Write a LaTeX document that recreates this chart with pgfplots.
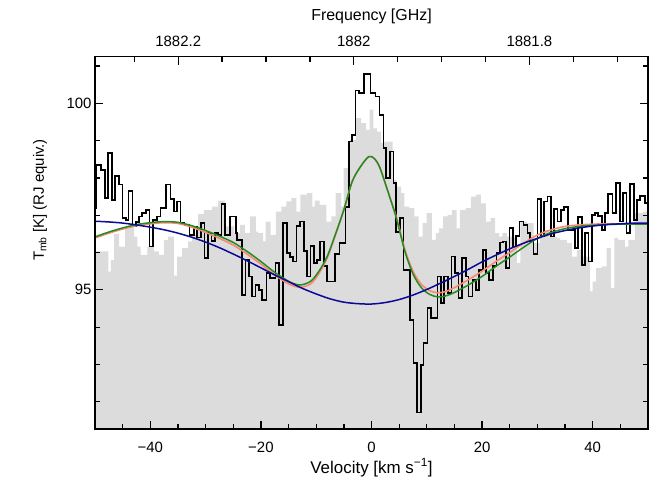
\documentclass[border=0pt]{standalone}
\usepackage{fontspec}
\setmainfont{Liberation Sans}
\usepackage{pgfplots}
\pgfplotsset{compat=1.18}
\definecolor{histgray}{RGB}{220,220,220}
\definecolor{fitblue}{RGB}{10,10,150}
\definecolor{fitgreen}{RGB}{34,139,34}
\definecolor{fitsalmon}{RGB}{250,135,115}
\newcommand{\tfont}{\fontsize{15}{18}\selectfont}
\newcommand{\lfont}{\fontsize{16}{19}\selectfont}
\newcommand{\vfont}{\fontsize{17}{20}\selectfont}
\pgfplotsset{
  myax/.style={scale only axis, width=553bp, height=372.3bp,
    xmin=-50, xmax=50, ymin=91.27, ymax=101.25,
    at={(0,0)}, anchor=south west,
    tick align=inside, major tick length=8bp, minor tick length=5bp,
    axis line style={line width=1.5bp}, tick style={line width=1.3bp, black}}
}
\begin{document}
\begin{tikzpicture}
\path[use as bounding box] (-95bp,-53bp) rectangle (556bp,429bp);
\begin{axis}[myax, axis on top,
  xtick={-40,-20,0,20,40}, xticklabels={−40,−20,0,20,40},
  minor xtick={-45,-35,-30,-25,-15,-10,-5,5,10,15,25,30,35,45},
  xtick pos=left,
  ytick={95,100}, yticklabels={95,100},
  minor ytick={92,93,94,96,97,98,99,101},
  ytick pos=both, yticklabel pos=left,
  xticklabel style={anchor=center, yshift=-18bp, font=\tfont},
  yticklabel style={font=\tfont},
  xlabel={Velocity [km s\textsuperscript{−1}]},
  every axis x label/.style={at={(axis description cs:0.5,-0.1182)}, anchor=base, font=\vfont},
  ylabel={T\textsubscript{mb} [K] (RJ equiv.)},
  every axis y label/.style={at={(axis description cs:-0.0995,0.615)}, rotate=90, anchor=center, font=\tfont},
]
% gray histogram
\addplot[const plot, fill=histgray, draw=none] coordinates {
(-50,96.03) (-47.57,95.49) (-47.15,95.80) (-46.55,96.50) (-45.65,96.16) (-44.56,96.65)
(-43.84,96.70) (-42.94,96.43) (-42.34,96.16) (-41.74,95.94) (-40.54,96.16) (-39.34,96.03)
(-38.44,95.94) (-37.54,96.34) (-36.76,96.43) (-35.74,95.38) (-35.14,95.89) (-34.23,96.12)
(-33.15,96.30) (-32.43,96.47) (-31.35,97.03) (-30.33,97.14) (-28.83,97.23) (-27.75,97.39)
(-26.55,96.70) (-24.86,96.52) (-23.78,96.74) (-22.88,96.52) (-21.98,96.97) (-20.90,96.56)
(-20.48,96.52) (-19.58,96.30) (-19.16,96.83) (-18.26,96.47) (-17.30,97.10) (-16.28,97.23)
(-15.38,97.37) (-14.47,97.46) (-13.57,97.10) (-12.85,97.55) (-11.65,97.59) (-10.69,97.23)
(-10.27,97.39) (-9.37,97.28) (-8.17,96.83) (-7.27,96.97) (-6.49,97.59) (-5.47,97.23)
(-5.05,98.26) (-4.26,98.89) (-3.84,99.02) (-2.76,99.60) (-1.86,99.47) (-0.96,99.29)
(-0.36,99.83) (0.36,99.33) (0.96,99.24) (1.74,98.93) (2.34,98.97) (2.94,98.97)
(3.84,97.95) (4.56,97.77) (5.35,97.59) (5.95,97.23) (6.85,97.19) (7.75,96.97)
(8.53,96.43) (9.25,96.79) (9.97,97.06) (10.93,96.34) (11.65,96.52) (12.25,96.65)
(12.97,96.97) (13.75,97.01) (14.53,97.14) (15.38,96.65) (15.98,97.14) (17.06,97.19)
(17.96,97.50) (18.86,97.55) (19.76,97.32) (20.66,96.83) (21.56,96.92) (22.34,96.52)
(23.06,96.43) (23.66,96.52) (24.50,96.43) (26.31,95.72) (26.91,96.83) (28.11,96.79)
(29.31,96.25) (30.51,96.39) (31.11,96.61) (32.01,96.43) (33.51,96.39) (34.11,96.34)
(35.32,96.25) (36.22,95.89) (37.12,96.07) (38.02,95.89) (39.52,94.96) (40.00,95.22)
(40.60,95.58) (41.62,95.63) (42.52,96.12) (43.30,95.05) (43.90,96.39) (44.62,96.34)
(45.83,96.16) (46.43,96.34) (47.63,97.06) (49.13,97.10) (50,97.10)
} \closedcycle;
% black histogram
\addplot[const plot, black, line width=1.7bp] coordinates {
(-50,97.19) (-49.75,98.35) (-48.95,98.22) (-48.23,97.46) (-47.63,98.66) (-46.97,97.41)
(-46.37,98.06) (-45.65,97.82) (-45.05,96.92) (-44.44,96.88) (-43.96,97.65) (-43.24,96.70)
(-42.64,96.81) (-42.04,96.97) (-41.56,97.06) (-40.84,97.14) (-40.12,96.16) (-39.46,96.88)
(-38.74,96.97) (-38.14,97.19) (-37.12,97.82) (-36.34,97.43) (-35.74,97.10) (-35.14,97.37)
(-34.54,96.79) (-33.81,96.74) (-32.91,96.47) (-32.13,96.70) (-31.53,96.40) (-30.81,96.80)
(-30.21,95.85) (-29.55,96.52) (-28.95,96.31) (-28.35,96.52) (-27.75,96.47) (-27.15,97.31)
(-26.43,96.47) (-25.53,96.97) (-24.56,96.52) (-24.26,96.34) (-23.36,94.87) (-22.76,95.80)
(-22.16,95.36) (-21.56,94.82) (-20.96,95.13) (-20.36,95.00) (-19.76,94.73) (-18.98,95.45)
(-18.38,95.31) (-17.36,95.72) (-16.70,94.06) (-15.98,96.79) (-15.26,95.98) (-14.77,95.88)
(-14.17,95.76) (-13.57,96.72) (-12.97,96.83) (-12.25,96.05) (-11.65,95.36) (-11.05,96.18)
(-10.45,95.72) (-9.85,95.80) (-9.37,96.30) (-8.65,95.63) (-8.05,95.22) (-6.55,95.97)
(-5.77,96.25) (-4.68,97.23) (-4.08,98.98) (-3.48,99.16) (-2.88,100.34) (-2.28,100.27)
(-1.38,100.79) (-0.20,100.27) (0.72,100.18) (1.44,99.69) (2.16,98.80) (2.64,97.99)
(3.36,98.71) (3.96,97.86) (4.44,96.56) (5.17,96.92) (5.77,95.54) (6.97,94.20)
(7.57,93.03) (8.17,91.71) (8.95,92.99) (9.43,93.57) (10.15,94.51) (10.75,94.24)
(11.95,95.36) (12.55,94.64) (13.15,95.36) (13.87,94.91) (14.47,95.89) (15.14,95.45)
(15.74,94.78) (16.34,95.85) (17.06,95.36) (17.54,94.82) (18.26,95.27) (18.86,95.00)
(19.46,95.54) (20.18,96.07) (20.66,95.45) (21.26,95.27) (21.98,95.63) (22.58,95.98)
(23.18,96.27) (23.78,96.30) (24.38,95.58) (24.98,96.65) (25.53,96.16) (26.19,96.45)
(26.79,96.83) (27.51,96.74) (28.23,96.52) (28.71,96.30) (29.31,95.97) (30.03,97.44)
(30.69,96.43) (31.23,97.37) (31.83,97.50) (32.43,96.43) (33.03,97.17) (33.63,96.83)
(34.23,97.14) (34.83,97.23) (35.50,96.61) (36.22,96.61) (36.82,96.12) (37.30,96.95)
(38.02,95.67) (38.62,96.52) (39.22,95.76) (39.82,97.01) (40.42,97.06) (41.02,96.98)
(41.62,96.61) (42.22,97.06) (42.82,97.57) (43.60,97.06) (44.20,97.86) (44.92,96.83)
(45.53,97.59) (46.13,96.52) (46.73,97.83) (47.45,96.88) (48.05,97.41) (48.53,97.52)
(49.49,97.32) (50,97.32)
};
% salmon fit
\addplot[smooth, fitsalmon, line width=1.6bp] coordinates {
(-50,96.39) (-47.5,96.52) (-45,96.63) (-42.5,96.72) (-40,96.77) (-37.5,96.80) (-35,96.78)
(-32.5,96.68) (-30,96.54) (-27.5,96.38) (-25,96.20) (-22.5,95.96) (-20,95.69) (-17.5,95.40)
(-15,95.16) (-13,95.07) (-11,95.16) (-9.5,95.44) (-8,95.86) (-6.5,96.48) (-5,97.14)
(-3.5,97.90) (-2,98.30) (-0.5,98.57) (0.5,98.52) (1.5,98.28) (3,97.63) (4.5,96.95)
(6,96.10) (7.5,95.50) (9,95.15) (10.5,94.98) (12,94.92) (13.5,94.96) (15,95.06)
(17.5,95.27) (20,95.50) (22.5,95.76) (25,96.00) (27.5,96.25) (30,96.47) (32.5,96.61)
(35,96.70) (37.5,96.74) (40,96.76) (42.5,96.77) (45,96.77) (47.5,96.77) (50,96.77)
};
% green fit
\addplot[smooth, fitgreen, line width=1.5bp] coordinates {
(-50,96.42) (-47.5,96.55) (-45,96.66) (-42.5,96.75) (-40,96.80) (-37.5,96.83) (-35,96.81)
(-32.5,96.72) (-30,96.59) (-27.5,96.44) (-25,96.27) (-22.5,96.03) (-20,95.76) (-17.5,95.47)
(-15,95.23) (-13,95.13) (-11,95.23) (-9.5,95.50) (-8,95.90) (-6.5,96.50) (-5,97.15)
(-3.5,97.90) (-2,98.30) (-0.5,98.57) (0.5,98.52) (1.5,98.28) (3,97.62) (4.5,96.92)
(6,96.05) (7.5,95.43) (9,95.06) (10.5,94.88) (12,94.81) (13.5,94.84) (15,94.93)
(17.5,95.13) (20,95.36) (22.5,95.63) (25,95.88) (27.5,96.14) (30,96.38) (32.5,96.54)
(35,96.64) (37.5,96.70) (40,96.73) (42.5,96.75) (45,96.76) (47.5,96.76) (50,96.76)
};
% blue fit
\addplot[smooth, fitblue, line width=1.5bp] coordinates {
(-50,96.84) (-47.5,96.82) (-45,96.79) (-42.5,96.74) (-40,96.68) (-37.5,96.61) (-35,96.52)
(-32.5,96.41) (-30,96.28) (-27.5,96.13) (-25,95.96) (-22.5,95.78) (-20,95.59) (-17.5,95.40)
(-15,95.22) (-12.5,95.04) (-10,94.89) (-7.5,94.76) (-5,94.67) (-2.5,94.63) (0,94.62)
(2.5,94.66) (5,94.74) (7.5,94.86) (10,95.01) (12.5,95.18) (15,95.36) (17.5,95.55)
(20,95.75) (22.5,95.93) (25,96.10) (27.5,96.25) (30,96.38) (32.5,96.50) (35,96.59)
(37.5,96.66) (40,96.71) (42.5,96.75) (45,96.77) (47.5,96.79) (50,96.79)
};
\end{axis}
\begin{axis}[myax, axis x line*=top, hide y axis,
  xtick={-34.95,-3.2,28.55}, xticklabels={1882.2,1882,1881.8},
  minor xtick={-42.89,-27.01,-19.07,-11.14,4.74,12.68,20.61,36.49,44.43},
  xticklabel style={anchor=center, yshift=15bp, font=\tfont},
  xlabel={Frequency [GHz]},
  every axis x label/.style={at={(axis description cs:0.5,1.0959)}, anchor=base, font=\lfont},
]
\end{axis}
\end{tikzpicture}
\end{document}
